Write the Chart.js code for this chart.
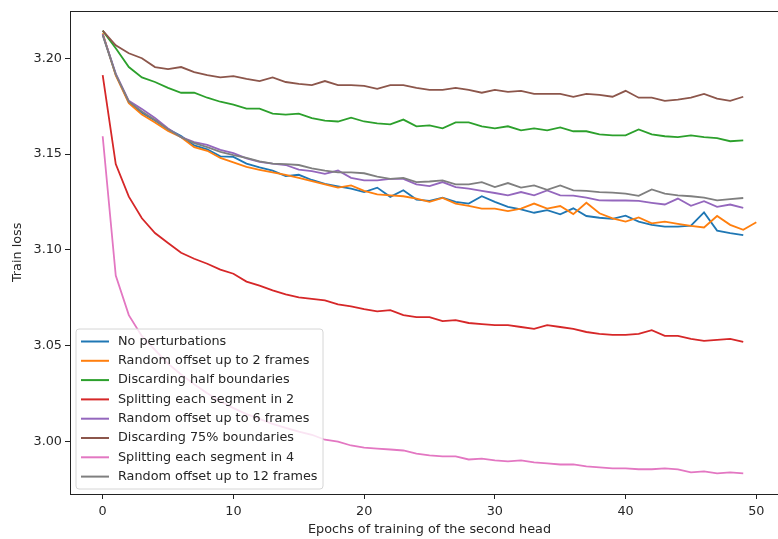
<!DOCTYPE html>
<html>
<head>
<meta charset="utf-8">
<script src="https://cdn.jsdelivr.net/npm/chart.js@4.4.1/dist/chart.umd.min.js"></script>
<style>
html,body{margin:0;padding:0;background:#fff;overflow:hidden;}
#wrap{width:778px;height:539px;overflow:hidden;position:relative;}
canvas{display:block;}
</style>
</head>
<body>
<div id="wrap"><canvas id="c" width="790" height="539"></canvas></div>
<script>
const labels = ["No perturbations","Random offset up to 2 frames","Discarding half boundaries","Splitting each segment in 2","Random offset up to 6 frames","Discarding 75% boundaries","Splitting each segment in 4","Random offset up to 12 frames"];
const colors = ["#1f77b4","#ff7f0e","#2ca02c","#d62728","#9467bd","#8c564b","#e377c2","#7f7f7f"];
const xTicks = [0,10,20,30,40,50];
const yTicks = [3.00,3.05,3.10,3.15,3.20];

const noPerturb = [3.2125,3.1915,3.177,3.1716,3.1675,3.163,3.1594,3.1545,3.1525,3.1488,3.1485,3.145,3.1431,3.1414,3.1385,3.1392,3.1365,3.1345,3.1332,3.132,3.1302,3.1325,3.1277,3.1311,3.1263,3.1256,3.1273,3.1251,3.1242,3.128,3.1251,3.1225,3.1211,3.1194,3.1208,3.1186,3.1217,3.1177,3.1168,3.1162,3.1179,3.1148,3.1131,3.1122,3.1122,3.1127,3.1196,3.1101,3.1088,3.1077];
const offset2 = [3.213,3.191,3.1766,3.1706,3.1665,3.162,3.1588,3.1536,3.1517,3.148,3.1457,3.1433,3.1418,3.1404,3.1392,3.1376,3.1359,3.1342,3.1325,3.1337,3.1308,3.129,3.1285,3.128,3.1268,3.1251,3.1271,3.1242,3.123,3.1216,3.1216,3.1203,3.1216,3.1242,3.1216,3.1229,3.1187,3.1246,3.1191,3.1165,3.1148,3.117,3.1139,3.1148,3.1136,3.1125,3.1117,3.1177,3.1131,3.1105,3.1144];
const discardHalf = [3.2144,3.2052,3.1954,3.190,3.1876,3.1845,3.182,3.182,3.1794,3.1773,3.1758,3.1737,3.1737,3.1711,3.1706,3.1711,3.1688,3.1675,3.167,3.169,3.167,3.166,3.1655,3.168,3.1645,3.165,3.1634,3.1665,3.1665,3.1645,3.1634,3.1645,3.1624,3.1634,3.1624,3.1639,3.1619,3.1619,3.1603,3.1598,3.1598,3.1629,3.1603,3.1593,3.1588,3.1598,3.1588,3.1583,3.1567,3.1572];
const split2 = [3.1912,3.1448,3.1278,3.1165,3.1088,3.1036,3.0985,3.0954,3.0928,3.0897,3.0876,3.0835,3.0814,3.0789,3.0768,3.0753,3.0745,3.0737,3.0716,3.0706,3.0691,3.068,3.0686,3.066,3.065,3.065,3.0629,3.0634,3.0619,3.0613,3.0608,3.0608,3.0598,3.0588,3.0608,3.0598,3.0588,3.0572,3.0562,3.0557,3.0557,3.0562,3.0582,3.0552,3.0552,3.0536,3.0526,3.0531,3.0536,3.052];
const offset6 = [3.2125,3.192,3.1778,3.1735,3.1688,3.1634,3.1588,3.1562,3.1548,3.1522,3.1505,3.1478,3.1459,3.145,3.1443,3.1419,3.1411,3.1397,3.1414,3.1376,3.1363,3.1363,3.1371,3.1371,3.1342,3.1333,3.1354,3.1328,3.132,3.1308,3.1297,3.1285,3.1302,3.1285,3.131,3.1285,3.1283,3.1273,3.1259,3.1258,3.1258,3.1256,3.1246,3.1237,3.1268,3.123,3.1254,3.1225,3.1237,3.122];
const discard75 = [3.2144,3.2067,3.2026,3.200,3.1954,3.1943,3.1954,3.1928,3.1912,3.190,3.1907,3.1892,3.1881,3.190,3.1876,3.1866,3.186,3.1881,3.186,3.186,3.1856,3.184,3.186,3.186,3.1845,3.1835,3.1835,3.1845,3.1835,3.182,3.1835,3.1825,3.183,3.1814,3.1814,3.1814,3.1799,3.1814,3.1809,3.1799,3.183,3.1794,3.1794,3.1778,3.1784,3.1794,3.1814,3.1789,3.1778,3.1799];
const split4 = [3.1593,3.0866,3.066,3.055,3.0479,3.0407,3.035,3.0299,3.0253,3.0211,3.0175,3.0144,3.0119,3.0093,3.0072,3.0052,3.0036,3.001,3.000,2.998,2.9969,2.9964,2.9959,2.9954,2.9938,2.9928,2.9923,2.9923,2.9907,2.9912,2.9902,2.9897,2.9902,2.9892,2.9887,2.9881,2.9881,2.9871,2.9866,2.9861,2.9861,2.9856,2.9856,2.9861,2.9856,2.984,2.9845,2.9835,2.984,2.9835];
const offset12 = [3.212,3.1915,3.1773,3.1722,3.1678,3.163,3.1588,3.1557,3.1536,3.1512,3.1495,3.148,3.1462,3.145,3.1448,3.1443,3.1426,3.1414,3.1405,3.1405,3.14,3.1383,3.1371,3.1376,3.1354,3.1357,3.1363,3.1342,3.1342,3.1354,3.1328,3.1349,3.1325,3.1337,3.1314,3.1337,3.1311,3.1308,3.1302,3.1299,3.1294,3.1282,3.1316,3.1294,3.1285,3.128,3.1273,3.1259,3.1265,3.1271];

const series = [noPerturb, offset2, discardHalf, split2, offset6, discard75, split4, offset12];
const FONT = "'DejaVu Sans', sans-serif";
const FS = 12.8;
const TXT = '#262626';

const datasets = series.map((arr, i) => ({
  label: labels[i],
  data: arr.map((v, k) => ({x: k, y: v})),
  borderColor: colors[i],
  backgroundColor: colors[i],
  borderWidth: 1.8,
  pointRadius: 0,
  tension: 0,
  fill: false,
  order: series.length - i
}));

const framePlugin = {
  id: 'frame',
  afterDatasetsDraw(chart) {
    const a = chart.chartArea, ctx = chart.ctx;
    ctx.save();
    ctx.strokeStyle = '#222';
    ctx.lineWidth = 1;
    ctx.strokeRect(Math.round(a.left) + 0.5, Math.round(a.top) + 0.5, Math.round(a.right - a.left), Math.round(a.bottom - a.top));
    ctx.restore();
  }
};

const legendPlugin = {
  id: 'mplLegend',
  afterDraw(chart) {
    const ctx = chart.ctx;
    const bx = 76, by = 329, bw = 247, bh = 160, r = 3;
    ctx.save();
    ctx.beginPath();
    ctx.moveTo(bx + r, by);
    ctx.lineTo(bx + bw - r, by); ctx.arcTo(bx + bw, by, bx + bw, by + r, r);
    ctx.lineTo(bx + bw, by + bh - r); ctx.arcTo(bx + bw, by + bh, bx + bw - r, by + bh, r);
    ctx.lineTo(bx + r, by + bh); ctx.arcTo(bx, by + bh, bx, by + bh - r, r);
    ctx.lineTo(bx, by + r); ctx.arcTo(bx, by, bx + r, by, r);
    ctx.closePath();
    ctx.fillStyle = 'rgba(255,255,255,0.8)';
    ctx.fill();
    ctx.strokeStyle = '#d6d6d6';
    ctx.lineWidth = 1;
    ctx.stroke();
    ctx.font = FS + 'px ' + FONT;
    ctx.textBaseline = 'middle';
    ctx.textAlign = 'left';
    chart.data.datasets.forEach((ds, i) => {
      const cy = 341.5 + i * 19.3;
      ctx.strokeStyle = ds.borderColor;
      ctx.lineWidth = 2;
      ctx.beginPath();
      ctx.moveTo(81, cy); ctx.lineTo(109, cy);
      ctx.stroke();
      ctx.fillStyle = TXT;
      ctx.fillText(ds.label, 118, cy);
    });
    ctx.restore();
  }
};

new Chart(document.getElementById('c'), {
  type: 'line',
  data: { datasets },
  options: {
    responsive: false,
    animation: false,
    devicePixelRatio: 1,
    layout: { padding: { top: 5, left: 0, right: 1, bottom: 0 } },
    plugins: { legend: { display: false }, tooltip: { enabled: false } },
    scales: {
      x: {
        type: 'linear',
        min: -2.5, max: 52.5,
        afterBuildTicks: s => { s.ticks = xTicks.map(v => ({value: v})); },
        afterFit: s => { s.height = 45; },
        grid: { display: true, drawOnChartArea: false, drawTicks: true, tickLength: 5, tickColor: '#222', tickWidth: 1 },
        border: { display: false },
        ticks: { color: TXT, font: { family: FONT, size: FS }, padding: 5, maxRotation: 0, autoSkip: false, callback: v => String(v) },
        title: { display: true, text: 'Epochs of training of the second head', color: TXT, font: { family: FONT, size: FS }, padding: { top: 0, bottom: 2 } }
      },
      y: {
        type: 'linear',
        min: 2.9727, max: 3.2248,
        afterBuildTicks: s => { s.ticks = yTicks.map(v => ({value: v})); },
        afterFit: s => { s.width = 70; },
        grid: { display: true, drawOnChartArea: false, drawTicks: true, tickLength: 5, tickColor: '#222', tickWidth: 1 },
        border: { display: false },
        ticks: { color: TXT, font: { family: FONT, size: FS }, padding: 3, autoSkip: false, callback: v => Number(v).toFixed(2) },
        title: { display: true, text: 'Train loss', color: TXT, font: { family: FONT, size: FS }, padding: { top: 10, bottom: 0 } }
      }
    }
  },
  plugins: [framePlugin, legendPlugin]
});
</script>
</body>
</html>
